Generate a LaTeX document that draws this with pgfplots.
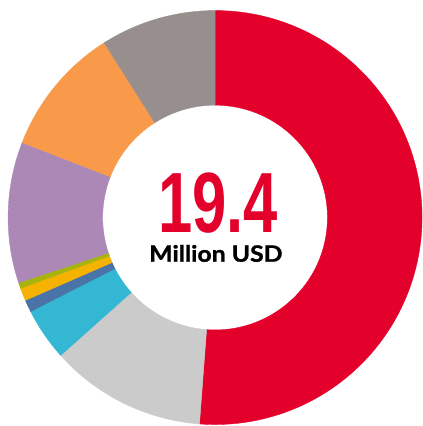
\documentclass[border=0pt]{standalone}
\usepackage{pgfplots}
\pgfplotsset{compat=1.18}
\usepackage{pgfplotstable}
\usepackage{fontspec}
\setmainfont{Liberation Sans}
\newfontfamily\numfam[FakeStretch=0.72]{Liberation Sans}
\newfontfamily\labfam[FakeStretch=1.1, FakeBold=1.2]{Lato}

\definecolor{cRed}{RGB}{227,0,43}
\definecolor{cLGray}{RGB}{203,203,203}
\definecolor{cCyan}{RGB}{51,183,211}
\definecolor{cBlue}{RGB}{74,115,168}
\definecolor{cYellow}{RGB}{246,178,0}
\definecolor{cGreen}{RGB}{166,180,12}
\definecolor{cPurple}{RGB}{172,136,182}
\definecolor{cOrange}{RGB}{248,154,74}
\definecolor{cDGray}{RGB}{150,143,141}

% share of each slice, in %, clockwise from the top
\pgfplotstableread{
pct col
51.2 cRed
12.2 cLGray
4.1 cCyan
0.95 cBlue
1.0 cYellow
0.45 cGreen
11.0 cPurple
10.1 cOrange
9.0 cDGray
}\donut

\begin{document}
\begin{tikzpicture}
\begin{axis}[
  hide axis,
  scale only axis,
  width=8.156cm, height=8.232cm,
  xmin=-1.039, xmax=1.0,
  ymin=-1.007, ymax=1.051,
]
\pgfplotstablegetrowsof{\donut}
\pgfmathtruncatemacro\nrows{\pgfplotsretval-1}
\xdef\angA{90}
\pgfplotsinvokeforeach{0,...,\nrows}{
  \pgfplotstablegetelem{#1}{pct}\of\donut \let\p\pgfplotsretval
  \pgfplotstablegetelem{#1}{col}\of\donut \let\c\pgfplotsretval
  \pgfmathsetmacro\angB{\angA-3.6*\p}
  \edef\temp{\noexpand\fill[\c, draw=\c, line width=0.2pt]
    (axis cs:{cos(\angA)},{sin(\angA)})
    arc[start angle=\angA, end angle=\angB, radius=4cm]
    -- (axis cs:{0.543*cos(\angB)},{0.543*sin(\angB)})
    arc[start angle=\angB, end angle=\angA, radius=2.172cm] -- cycle;}
  \temp
  \xdef\angA{\angB}
}
\node[anchor=base, inner sep=0pt, text=cRed, font={\numfam\bfseries\fontsize{47}{47}\selectfont}]
  at (axis cs:0.0145,-0.073) {19.4};
\node[anchor=base, inner sep=0pt, text=black, font={\labfam\bfseries\fontsize{12.4}{13}\selectfont}]
  at (axis cs:0.004,-0.2135) {Million USD};
\end{axis}
\path (current axis.south west) rectangle (current axis.north east);
\end{tikzpicture}
\end{document}
